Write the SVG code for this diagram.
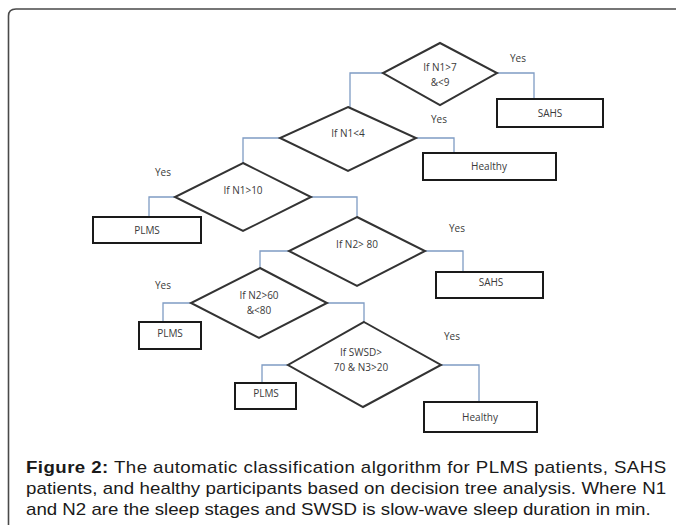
<svg xmlns="http://www.w3.org/2000/svg" width="676" height="525" viewBox="0 0 676 525">
<style>
.frame{fill:none;stroke:#4a4a4a;stroke-width:1.6}
.dia{fill:#fff;stroke:#333;stroke-width:2}
.box{fill:#fff;stroke:#1a1a1a;stroke-width:2}
.con{fill:none;stroke:#7f9cc4;stroke-width:1.3}
.t{font-family:"Open Sans","Liberation Sans",sans-serif;font-size:10px;fill:#3a3a3a;text-anchor:middle}
.cap{font-family:"Liberation Sans",Arial,sans-serif;font-size:16px;fill:#1a1a1a}
</style>
<rect width="676" height="525" fill="#fff"/>
<path class="frame" d="M8.5,525 V16 Q8.5,9 16,9 H676"/>
<g id="connectors">
<path class="con" d="M497,73 H534 V99"/>
<path class="con" d="M383,73 H350 V107"/>
<path class="con" d="M416,138 H454 V153"/>
<path class="con" d="M280,138 H243 V163"/>
<path class="con" d="M175,197 H149 V217"/>
<path class="con" d="M311,197 H357 V217"/>
<path class="con" d="M425,251 H463 V272"/>
<path class="con" d="M289,251 H260 V268"/>
<path class="con" d="M191,303 H163 V322"/>
<path class="con" d="M327,303 H364 V322"/>
<path class="con" d="M288,365 H262 V383"/>
<path class="con" d="M441,365 H479 V402"/>
</g>
<g id="yes-labels">
<text class="t" x="518" y="62">Yes</text>
<text class="t" x="439" y="123">Yes</text>
<text class="t" x="163" y="176">Yes</text>
<text class="t" x="457" y="232">Yes</text>
<text class="t" x="163" y="289">Yes</text>
<text class="t" x="452" y="340">Yes</text>
</g>
<g id="d1"><polygon class="dia" points="440,43 497,73 440,105 383,73"/><text class="t" x="440" y="71">If N1&gt;7</text><text class="t" x="440" y="86">&amp;&lt;9</text></g>
<g id="sahs1"><rect class="box" x="497" y="99" width="106" height="28"/><text class="t" x="550" y="117">SAHS</text></g>
<g id="d2"><polygon class="dia" points="348,107 416,138 348,171 280,138"/><text class="t" x="348" y="137">If N1&lt;4</text></g>
<g id="healthy1"><rect class="box" x="423" y="153" width="133" height="27"/><text class="t" x="489" y="170">Healthy</text></g>
<g id="d3"><polygon class="dia" points="243,163 311,197 243,231 175,197"/><text class="t" x="243" y="194">If N1&gt;10</text></g>
<g id="plms1"><rect class="box" x="93" y="217" width="108" height="26"/><text class="t" x="147" y="234">PLMS</text></g>
<g id="d4"><polygon class="dia" points="357,217 425,251 357,286 289,251"/><text class="t" x="357" y="248">If N2&gt; 80</text></g>
<g id="sahs2"><rect class="box" x="436" y="272" width="107" height="26"/><text class="t" x="491" y="286">SAHS</text></g>
<g id="d5"><polygon class="dia" points="260,268 327,303 259,338 191,303"/><text class="t" x="259" y="299">If N2&gt;60</text><text class="t" x="259" y="314">&amp;&lt;80</text></g>
<g id="plms2"><rect class="box" x="139" y="322" width="62" height="27"/><text class="t" x="170" y="337">PLMS</text></g>
<g id="d6"><polygon class="dia" points="364,322 441,365 363,407 288,365"/><text class="t" x="361" y="356">If SWSD&gt;</text><text class="t" x="361" y="371">70 &amp; N3&gt;20</text></g>
<g id="plms3"><rect class="box" x="235" y="383" width="61" height="26"/><text class="t" x="266" y="397">PLMS</text></g>
<g id="healthy2"><rect class="box" x="424" y="402" width="113" height="30"/><text class="t" x="480" y="421">Healthy</text></g>
<g id="caption" transform="scale(1.168,1)">
<text class="cap" x="22.3" y="473" textLength="548" lengthAdjust="spacing"><tspan font-weight="bold">Figure 2:</tspan> The automatic classification algorithm for PLMS patients, SAHS</text>
<text class="cap" x="22.3" y="494" textLength="548" lengthAdjust="spacing">patients, and healthy participants based on decision tree analysis. Where N1</text>
<text class="cap" x="22.3" y="515">and N2 are the sleep stages and SWSD is slow-wave sleep duration in min.</text>
</g>
</svg>
